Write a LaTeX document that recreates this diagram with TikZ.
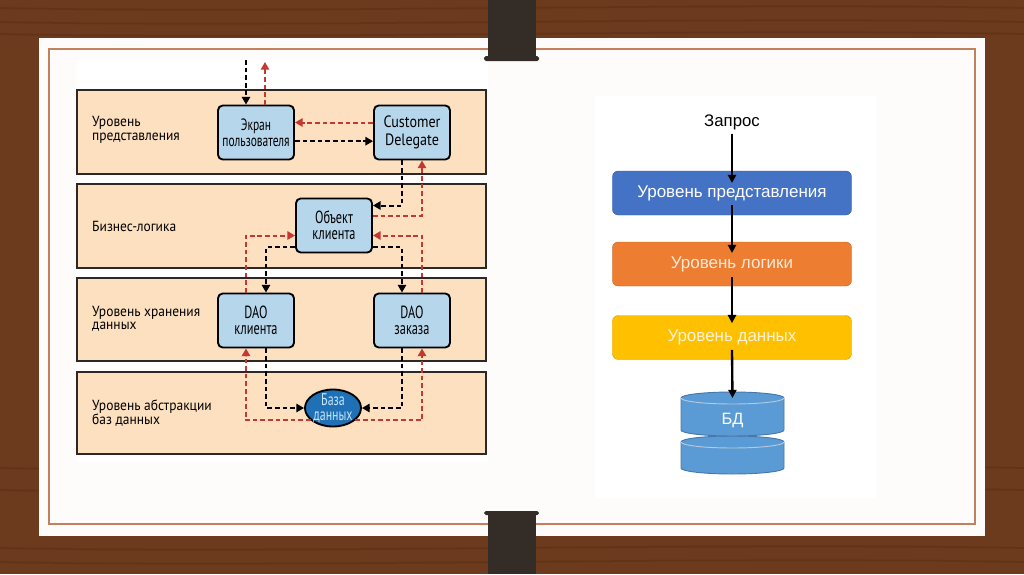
\documentclass[tikz,border=0pt]{standalone}
\usepackage{fontspec}
\setmainfont{Liberation Sans}
\newfontfamily\boxfont[FakeStretch=0.7]{PT Sans}
\newfontfamily\latinfont[FakeStretch=0.86]{PT Sans}
\newfontfamily\labelfont[FakeStretch=0.92]{PT Sans}
\usetikzlibrary{arrows.meta,shapes.geometric}

\definecolor{wood}{RGB}{108,58,28}
\definecolor{wooddark}{RGB}{76,38,16}
\definecolor{card}{RGB}{253,252,250}
\definecolor{frameline}{RGB}{196,128,92}
\definecolor{clipdark}{RGB}{52,44,38}
\definecolor{peach}{RGB}{252,224,192}
\definecolor{bandedge}{RGB}{45,40,38}
\definecolor{compblue}{RGB}{182,214,236}
\definecolor{dbblue}{RGB}{32,112,182}
\definecolor{dbtext}{RGB}{196,228,250}
\definecolor{respred}{RGB}{196,56,50}
\definecolor{tierblue}{RGB}{68,114,196}
\definecolor{tierorange}{RGB}{237,125,49}
\definecolor{tieryellow}{RGB}{255,192,0}
\definecolor{cylblue}{RGB}{91,155,213}
\definecolor{cyledge}{RGB}{70,120,170}

\begin{document}
\begin{tikzpicture}[x=0.03cm, y=-0.03cm,
  band/.style={draw=bandedge, line width=1.2pt, fill=peach},
  comp/.style={draw, line width=1.6pt, rounded corners=4pt, fill=compblue,
    minimum width=2.28cm, minimum height=1.62cm, inner sep=1pt, align=center,
    font=\boxfont\fontsize{15}{14}\selectfont},
  layername/.style={anchor=west, align=left, inner sep=0pt,
    font=\labelfont\fontsize{12.5}{11.5}\selectfont},
  req/.style={line width=1.7pt, dash pattern=on 4pt off 2.5pt,
    -{Triangle[length=6.5pt,width=7pt]}},
  resp/.style={req, respred},
  tier/.style={draw=#1!85!black, fill=#1, rounded corners=5pt,
    minimum width=7.17cm, minimum height=1.32cm,
    font=\fontsize{14.5}{16}\selectfont},
  flow/.style={line width=2pt, -{Triangle[length=7pt,width=7pt]}}]
\useasboundingbox (0,0) rectangle (1024,574);

% slide
\fill[wood] (0,0) rectangle (1024,574);
\foreach \y in {8,22,34,468,490,548,562}
  \draw[wooddark, opacity=.3, line width=1.5pt] (0,\y) .. controls (300,{\y+6}) and (700,{\y-6}) .. (1024,\y);
\fill[card] (39,38) rectangle (985,536);
\draw[frameline, line width=1.2pt] (49,49) rectangle (975,524);
\fill[white] (77,60) rectangle (488,462);
\fill[white] (595,96) rectangle (876,498);

% layers
\draw[band] (77,90) rectangle (486,174);
\draw[band] (77,184) rectangle (486,268);
\draw[band] (77,278) rectangle (486,361);
\draw[band] (77,372) rectangle (486,454);
\node[layername] (l1) at (92,130) {Уровень\\представления};
\node[layername] (l2) at (92,226) {Бизнес-логика};
\node[layername] (l3) at (92,319) {Уровень хранения\\данных};
\node[layername] (l4) at (92,413) {Уровень абстракции\\баз данных};

% components
\node[comp, font=\boxfont\fontsize{14}{13.5}\selectfont] (ekran) at (256,132.5) {Экран\\пользователя};
\node[comp, font=\latinfont\fontsize{14}{15.5}\selectfont] (delegate) at (412,132.5) {Customer\\Delegate};
\node[comp] (obekt) at (334,225.5) {Объект\\клиента};
\node[comp] (daok) at (256,320.5) {DAO\\клиента};
\node[comp] (daoz) at (412,320.5) {DAO\\заказа};
\node[draw, line width=1.6pt, ellipse, fill=dbblue, inner sep=0pt,
  minimum width=1.68cm, minimum height=1.11cm] (baza) at (333,408) {};
\node[text=dbtext, align=center, inner sep=0pt,
  font=\boxfont\fontsize{14.5}{13}\selectfont] (bazatext) at (baza.center) {База\\данных};

\coordinate (in) at (246,60);
\coordinate (out) at (265,62);
\draw[req] (in) -- (in |- ekran.north);
\draw[resp] (ekran.north -| out) -- (out);
\draw[resp] ([yshift=0.3cm]delegate.west) -- ([yshift=0.3cm]ekran.east);
\draw[req] ([yshift=-0.26cm]ekran.east) -- ([yshift=-0.26cm]delegate.west);
\draw[req] ([xshift=-0.3cm]delegate.south) |- ([yshift=0.6cm]obekt.east);
\draw[resp] ([yshift=0.3cm]obekt.east) -| ([xshift=0.3cm]delegate.south);
\draw[resp] ([xshift=-0.3cm]daok.north) |- ([yshift=-0.3cm]obekt.west);
\draw[req] ([yshift=-0.65cm]obekt.west) -| ([xshift=0.3cm]daok.north);
\draw[resp] ([xshift=0.3cm]daoz.north) |- ([yshift=-0.3cm]obekt.east);
\draw[req] ([yshift=-0.65cm]obekt.east) -| ([xshift=-0.3cm]daoz.north);
\draw[req] ([xshift=0.3cm]daok.south) |- (baza.west);
\draw[resp] (baza.209) -| ([xshift=-0.3cm]daok.south);
\draw[req] ([xshift=-0.3cm]daoz.south) |- (baza.east);
\draw[resp] (baza.331) -| ([xshift=0.3cm]daoz.south);

% right picture
\node[font=\fontsize{14.3}{16}\selectfont] (zapros) at (732,122) {Запрос};
\node[tier=tierblue, text=white] (pres) at (732,193) {Уровень представления};
\node[tier=tierorange, text={rgb,255:red,253;green,233;blue,217}] (logic) at (732,264) {Уровень логики};
\node[tier=tieryellow, text={rgb,255:red,255;green,244;blue,214}] (data) at (732,337.5) {Уровень данных};

% database
\filldraw[fill=cylblue, draw=cyledge, line width=.8pt]
  (681,442) -- (681,468) arc[start angle=180, end angle=360, x radius=51.5, y radius=-6] -- (784,442)
  arc[start angle=0, end angle=180, x radius=51.5, y radius=-6] -- cycle;
\draw[cyledge!40!white, line width=.8pt] (681,442) arc[start angle=180, end angle=360, x radius=51.5, y radius=-6];
\filldraw[fill=cylblue, draw=cyledge, line width=.8pt]
  (681,398) -- (681,430) arc[start angle=180, end angle=360, x radius=51.5, y radius=-6] -- (784,398)
  arc[start angle=0, end angle=180, x radius=51.5, y radius=-6] -- cycle;
\draw[cyledge!40!white, line width=.8pt] (681,398) arc[start angle=180, end angle=360, x radius=51.5, y radius=-6];
\coordinate (bd) at (732.5,398);
\node[text=white, font=\fontsize{14}{15}\selectfont] (bdtext) at (732.5,420) {БД};

\draw[flow] (zapros.south) -- ([yshift=0.3cm]pres.center);
\draw[flow] ([yshift=-0.36cm]pres.center) -- ([yshift=0.33cm]logic.center);
\draw[flow] ([yshift=-0.39cm]logic.center) -- ([yshift=0.43cm]data.center);
\draw[flow] ([yshift=-0.37cm]data.center) -- (bd);

% clips
\fill[clipdark] (488,0) rectangle (536,58);
\fill[clipdark, rounded corners=1.5pt] (484,56) rectangle (539,61);
\fill[clipdark, rounded corners=1.5pt] (484,511) rectangle (539,515);
\fill[clipdark] (488,513) rectangle (536,574);
\end{tikzpicture}
\end{document}
